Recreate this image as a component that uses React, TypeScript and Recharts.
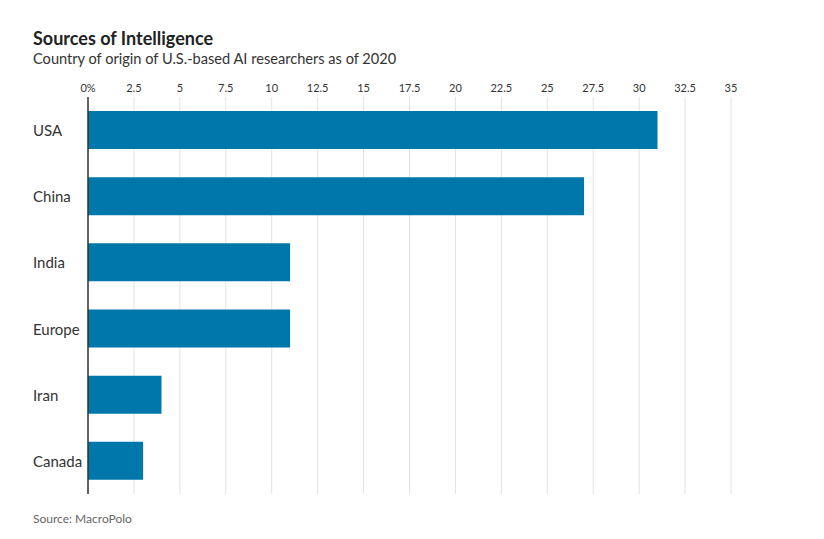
import React from "react";
import { BarChart, Bar, XAxis, YAxis, CartesianGrid } from "recharts";

const countries = ["USA", "China", "India", "Europe", "Iran", "Canada"];
const shares = [31, 27, 11, 11, 4, 3];
const xTicks = [0, 2.5, 5, 7.5, 10, 12.5, 15, 17.5, 20, 22.5, 25, 27.5, 30, 32.5, 35];

const data = countries.map((c, i) => ({ country: c, value: shares[i] }));

const FONT = "Lato, 'Noto Sans', sans-serif";

const CategoryTick = (props: any) => {
  const { y, payload } = props;
  return (
    <text x={33} y={y} dy={6} textAnchor="start" fontSize={15} fill="#333" fontFamily={FONT}>
      {payload.value}
    </text>
  );
};

export default function App() {
  return (
    <div
      style={{
        position: "absolute",
        left: 0,
        top: 0,
        width: 824,
        height: 539,
        background: "#fff",
        fontFamily: FONT,
      }}
    >
      <div style={{ position: "absolute", left: 33, top: 27, fontSize: 18, fontWeight: 700, color: "#222" }}>
        Sources of Intelligence
      </div>
      <div style={{ position: "absolute", left: 33, top: 50, fontSize: 14.6, color: "#333" }}>
        Country of origin of U.S.-based AI researchers as of 2020
      </div>
      <div style={{ position: "absolute", left: 33, top: 511, fontSize: 12, color: "#666" }}>
        Source: MacroPolo
      </div>
      <div style={{ position: "absolute", left: 0, top: 0 }}>
        <BarChart
          width={824}
          height={539}
          data={data}
          layout="vertical"
          margin={{ top: 77, right: 93, bottom: 45, left: 0 }}
          barSize={38}
        >
          <CartesianGrid horizontal={false} vertical stroke="#e2e2e2" strokeWidth={1} />
          <XAxis
            type="number"
            orientation="top"
            domain={[0, 35]}
            ticks={xTicks}
            interval={0}
            axisLine={false}
            tickLine={false}
            height={20}
            tick={{ fontSize: 11, fill: "#333", fontFamily: FONT }}
            tickFormatter={(v: number) => (v === 0 ? "0%" : String(v))}
            dy={3}
          />
          <YAxis
            type="category"
            dataKey="country"
            width={88}
            axisLine={{ stroke: "#333", strokeWidth: 1.5 }}
            tickLine={false}
            tick={<CategoryTick />}
          />
          <Bar dataKey="value" fill="#0077ab" isAnimationActive={false} />
        </BarChart>
      </div>
    </div>
  );
}
